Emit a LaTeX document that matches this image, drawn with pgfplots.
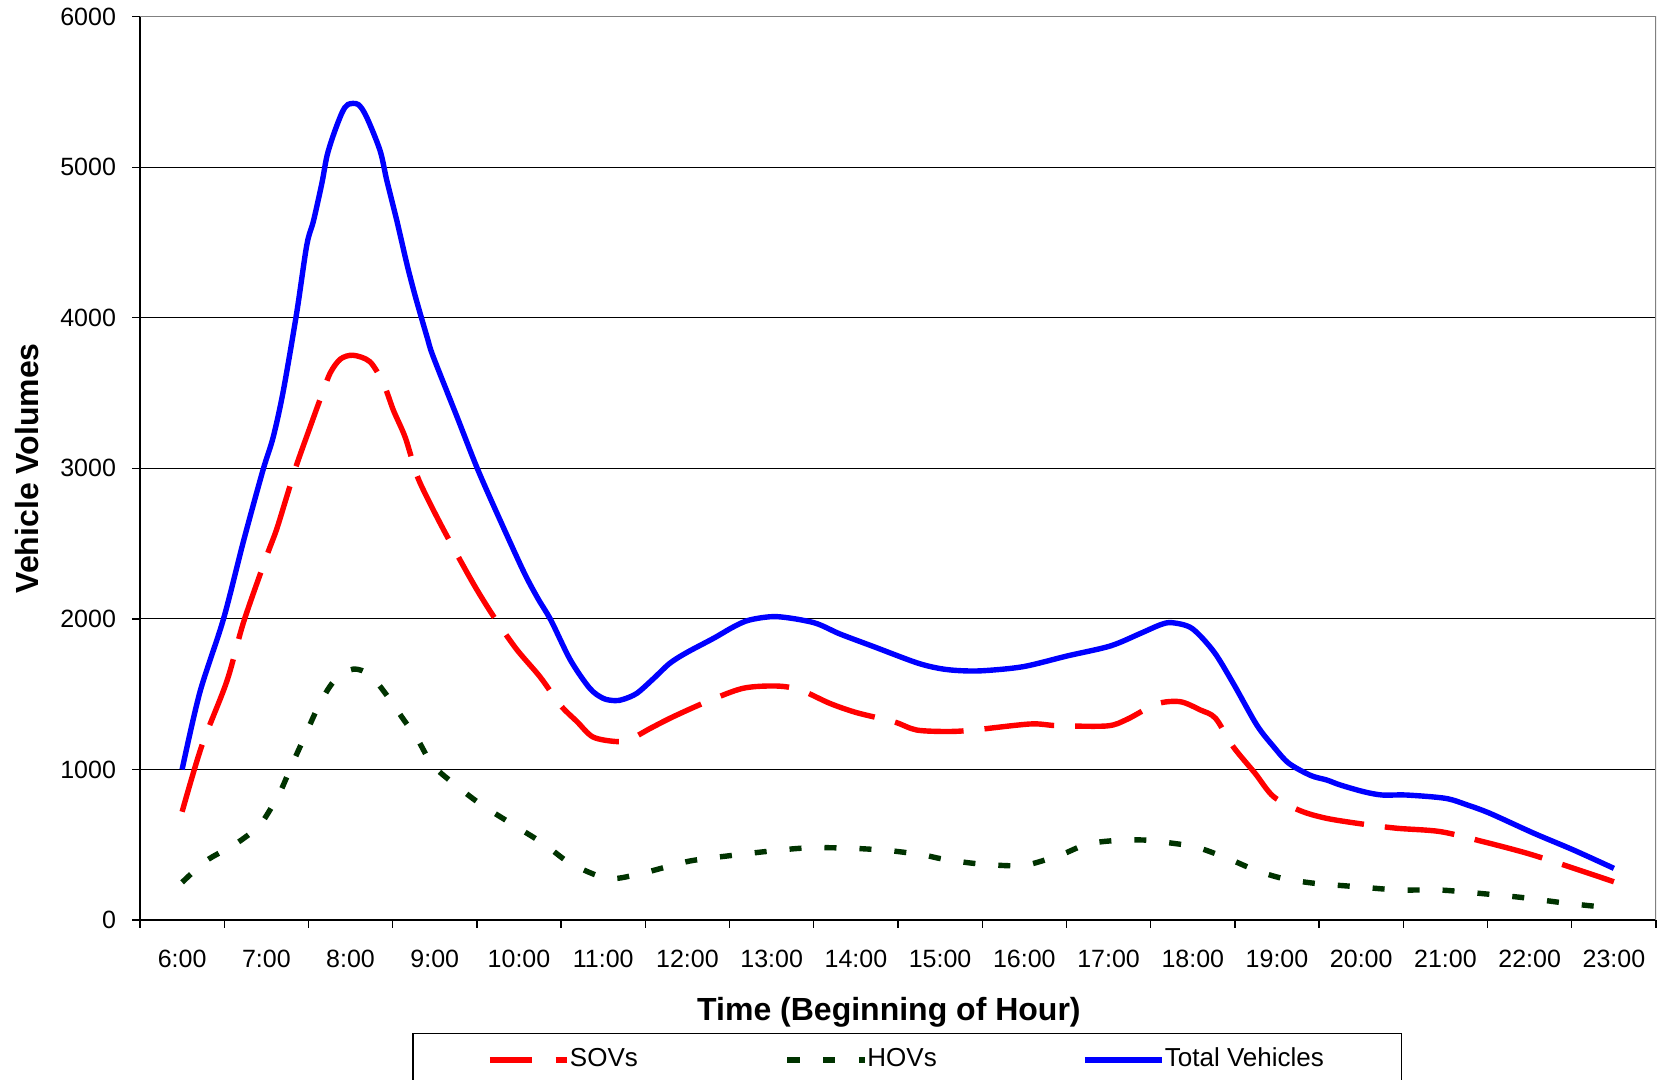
\documentclass[border=0pt]{standalone}
\usepackage{fontspec}
\setmainfont{Liberation Sans}
\usepackage{pgfplots}
\pgfplotsset{compat=1.18}
\definecolor{sovred}{RGB}{255,0,0}
\definecolor{hovgreen}{RGB}{0,51,0}
\definecolor{totblue}{RGB}{0,0,255}
\begin{document}
\begin{tikzpicture}
\begin{axis}[
  at={(70pt,80pt)}, anchor=south west,
  scale only axis, width=758pt, height=451.65pt,
  xmin=5.5, xmax=23.5, ymin=0, ymax=6000,
  axis x line*=bottom, axis y line*=left,
  axis line style={black, line width=0.7pt},
  xtick={5.5,6.5,...,23.5},
  xticklabels={{},{},{},{},{},{},{},{},{},{},{},{},{},{},{},{},{},{},{}},
  extra x ticks={6,7,...,23},
  extra x tick labels={6:00,7:00,8:00,9:00,10:00,11:00,12:00,13:00,14:00,15:00,16:00,17:00,18:00,19:00,20:00,21:00,22:00,23:00},
  extra x tick style={major tick length=0pt, grid=none},
  ytick={0,1000,...,6000},
  major tick length=4pt,
  tick align=outside,
  tick style={black, line width=0.7pt},
  ymajorgrids, grid style={black, line width=0.6pt},
  ticklabel style={font=\fontsize{12.5}{15}\selectfont},
  xticklabel style={yshift=-11.5pt},
  yticklabel style={xshift=-4.5pt},
  /pgf/number format/assume math mode=true,
  /pgf/number format/1000 sep={},
  scaled y ticks=false,
  ylabel={Vehicle Volumes},
  ylabel style={font=\bfseries\fontsize{16}{19}\selectfont, at={(axis description cs:-0.0747,0.5)}, anchor=center},
  xlabel={Time (Beginning of Hour)},
  xlabel style={font=\bfseries\fontsize{16}{19}\selectfont, at={(axis description cs:0.494,0)}, anchor=base, yshift=-50.5pt},
  legend columns=3,
  legend cell align=left,
  legend style={at={(0.506,-0.1251)}, anchor=north, draw=black, line width=0.7pt,
    inner xsep=10.5pt, inner ysep=7.2pt,
    font=\fontsize{13}{15}\selectfont,
    nodes={inner sep=0pt, text height=9.3pt, text depth=2.6pt},
    /tikz/every even column/.style={column sep=0pt}},
]
\addplot[sovred, line width=2.7pt, smooth, dash pattern=on 35pt off 10.5pt,
  legend image code/.code={\path[draw=none] (0pt,0pt) -- (30pt,0pt); \draw[sovred, line width=2.7pt, dash pattern=on 20.85pt off 12pt on 5.85pt off 10pt] (28pt,0pt) -- (66.7pt,0pt);}]
coordinates {
(6.00,719) (6.23,1151) (6.53,1584) (6.73,1979) (7.00,2411) (7.12,2591) (7.24,2808)
(7.36,3024) (7.52,3275) (7.66,3491) (7.76,3635) (7.88,3726) (8.03,3751) (8.23,3708)
(8.39,3564) (8.51,3384) (8.65,3204) (8.79,2951) (8.94,2771) (9.14,2555) (9.46,2232)
(9.70,2015) (9.97,1799) (10.25,1615) (10.49,1428) (10.69,1317) (10.88,1215) (11.16,1185)
(11.32,1200) (11.56,1273) (11.83,1350) (12.23,1450) (12.66,1539) (13.06,1554) (13.34,1528)
(13.69,1439) (14.01,1377) (14.45,1317) (14.72,1262) (15.10,1252) (15.40,1262) (16.07,1302)
(16.39,1291) (16.98,1289) (17.22,1333) (17.57,1435) (17.85,1450) (18.09,1395) (18.27,1340)
(18.48,1151) (18.74,974) (18.96,819) (19.28,725) (19.59,675) (20.03,636) (20.43,609)
(20.94,587) (21.45,520) (21.97,443) (22.44,359) (23.00,254)
};
\addlegendentry{\makebox[78.7pt][l]{SOVs}}
\addplot[hovgreen, line width=2.7pt, smooth, dash pattern=on 6pt off 11.5pt,
  legend image code/.code={\path[draw=none] (0pt,0pt) -- (30pt,0pt); \draw[hovgreen, line width=2.7pt, dash pattern=on 6.15pt off 11.75pt] (30pt,0pt) -- (68.7pt,0pt);}]
coordinates {
(6.00,250) (6.29,395) (6.61,496) (6.85,593) (6.97,666) (7.16,846) (7.30,1026) (7.46,1224)
(7.62,1421) (7.80,1584) (8.03,1666) (8.23,1627) (8.43,1493) (8.63,1331) (8.79,1206)
(8.98,1026) (9.28,882) (9.56,763) (9.97,619) (10.31,500) (10.61,376) (11.04,277)
(11.38,299) (11.76,354) (12.05,394) (12.47,425) (13.02,460) (13.46,480) (13.97,476)
(14.41,460) (14.80,432) (15.02,406) (15.40,376) (15.79,361) (16.03,365) (16.43,432)
(16.74,503) (17.06,527) (17.42,531) (17.77,509) (18.05,483) (18.41,410) (18.74,332)
(19.06,277) (19.44,244) (19.83,226) (20.07,215) (20.46,199) (20.94,199) (21.48,173)
(21.93,148) (22.44,111) (22.90,84) (23.00,75)
};
\addlegendentry{\makebox[78.7pt][l]{HOVs}}
\addplot[totblue, line width=2.7pt, smooth,
  legend image code/.code={\path[draw=none] (0pt,0pt) -- (30pt,0pt); \draw[totblue, line width=2.7pt] (30pt,0pt) -- (68.7pt,0pt);}]
coordinates {
(6.00,1000) (6.21,1511) (6.49,1997) (6.73,2519) (6.96,2988) (7.08,3204) (7.20,3510)
(7.36,4031) (7.48,4482) (7.56,4644) (7.66,4895) (7.72,5075) (7.80,5220) (7.90,5364)
(7.97,5417) (8.09,5417) (8.19,5334) (8.35,5111) (8.43,4913) (8.55,4644) (8.67,4355)
(8.77,4140) (8.91,3869) (8.98,3744) (9.26,3348) (9.50,3006) (9.74,2700) (10.05,2320)
(10.22,2140) (10.38,1990) (10.61,1727) (10.84,1539) (11.00,1472) (11.14,1457) (11.24,1466)
(11.40,1506) (11.60,1605) (11.79,1705) (11.99,1776) (12.31,1871) (12.55,1948) (12.74,1993)
(13.06,2015) (13.50,1975) (13.81,1900) (14.21,1816) (14.72,1709) (15.00,1670) (15.24,1656)
(15.52,1656) (15.99,1683) (16.51,1754) (17.02,1820) (17.38,1904) (17.61,1960) (17.75,1975)
(17.99,1937) (18.25,1782) (18.48,1572) (18.76,1295) (18.96,1151) (19.14,1041) (19.40,960)
(19.59,930) (19.75,897) (20.03,852) (20.25,830) (20.54,830) (21.00,808) (21.26,764)
(21.53,708) (22.05,576) (22.52,465) (23.00,343)
};
\addlegendentry{\makebox[107.7pt][l]{Total Vehicles}}
\draw[gray, line width=0.7pt] (rel axis cs:0,1) -- (rel axis cs:1,1) -- (rel axis cs:1,0);
\end{axis}
\pgfresetboundingbox
\useasboundingbox (0,0) rectangle (829.5pt,540pt);
\end{tikzpicture}
\end{document}
